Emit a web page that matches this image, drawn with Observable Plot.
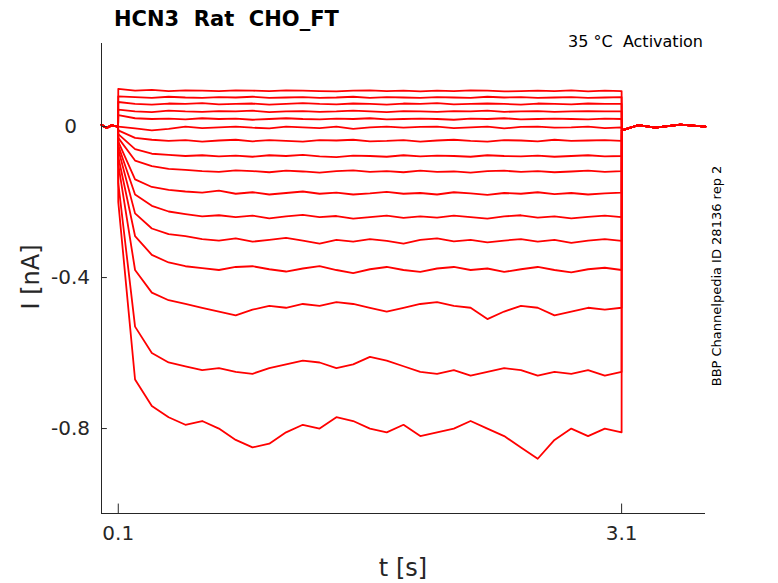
<!DOCTYPE html><html><head><meta charset="utf-8">
<script src="https://cdn.jsdelivr.net/npm/d3@7"></script>
<script src="https://cdn.jsdelivr.net/npm/@observablehq/plot@0.6"></script>
<style>body{margin:0;background:#fff;font-family:"DejaVu Sans",sans-serif}</style></head><body><div id="c"></div>
<script>
const preT=[0,0.03,0.06,0.099];
const pulseT=[0.1,0.2,0.3,0.4,0.5,0.6,0.7,0.8,0.9,1.0,1.1,1.2,1.3,1.4,1.5,1.6,1.7,1.8,1.9,2.0,2.1,2.2,2.3,2.4,2.5,2.6,2.7,2.8,2.9,3.0,3.1];
const postT=[3.101,3.2,3.3,3.45,3.6];
const preV=[0.005,-0.004,0.003,0.0];
const postV=[-0.01,0.004,-0.003,0.005,0.0];
const traces=[
[0.1,0.095,0.097,0.094,0.096,0.095,0.094,0.096,0.095,0.094,0.096,0.095,0.094,0.093,0.095,0.096,0.094,0.095,0.093,0.095,0.094,0.096,0.095,0.093,0.094,0.095,0.094,0.096,0.093,0.095,0.094],
[0.08,0.078,0.076,0.079,0.077,0.076,0.078,0.077,0.079,0.076,0.077,0.078,0.076,0.077,0.079,0.076,0.078,0.077,0.076,0.078,0.077,0.076,0.079,0.077,0.078,0.076,0.077,0.078,0.076,0.077,0.078],
[0.065,0.06,0.058,0.061,0.06,0.062,0.059,0.06,0.061,0.058,0.06,0.062,0.06,0.059,0.061,0.06,0.058,0.061,0.06,0.062,0.059,0.06,0.061,0.06,0.058,0.061,0.06,0.059,0.061,0.06,0.06],
[0.045,0.04,0.038,0.042,0.04,0.039,0.041,0.04,0.042,0.038,0.04,0.041,0.039,0.04,0.042,0.04,0.038,0.041,0.04,0.039,0.041,0.04,0.042,0.039,0.04,0.041,0.039,0.04,0.041,0.04,0.04],
[0.03,0.022,0.02,0.021,0.019,0.022,0.02,0.021,0.018,0.02,0.022,0.02,0.019,0.021,0.02,0.022,0.019,0.02,0.021,0.02,0.018,0.021,0.02,0.022,0.019,0.02,0.021,0.02,0.019,0.021,0.02],
[0.0,-0.005,-0.01,-0.006,0.0,-0.004,-0.002,0.0,-0.003,-0.005,0.0,-0.002,-0.004,0.0,-0.006,-0.002,0.0,-0.003,-0.001,0.0,-0.004,-0.002,0.0,-0.005,-0.001,0.0,-0.003,-0.002,0.0,-0.004,-0.002],
[-0.01,-0.03,-0.035,-0.038,-0.036,-0.04,-0.037,-0.035,-0.039,-0.036,-0.038,-0.04,-0.036,-0.037,-0.035,-0.039,-0.038,-0.036,-0.04,-0.037,-0.035,-0.038,-0.04,-0.036,-0.037,-0.039,-0.035,-0.038,-0.037,-0.036,-0.038],
[-0.02,-0.06,-0.072,-0.075,-0.078,-0.076,-0.079,-0.077,-0.08,-0.076,-0.078,-0.075,-0.079,-0.081,-0.077,-0.078,-0.08,-0.076,-0.079,-0.077,-0.078,-0.08,-0.076,-0.078,-0.079,-0.077,-0.08,-0.078,-0.076,-0.079,-0.078],
[-0.03,-0.09,-0.105,-0.112,-0.115,-0.118,-0.12,-0.116,-0.118,-0.121,-0.117,-0.119,-0.122,-0.118,-0.116,-0.12,-0.118,-0.121,-0.117,-0.12,-0.119,-0.122,-0.118,-0.117,-0.12,-0.118,-0.121,-0.119,-0.117,-0.12,-0.118],
[-0.04,-0.14,-0.16,-0.168,-0.172,-0.175,-0.17,-0.178,-0.174,-0.18,-0.176,-0.172,-0.178,-0.175,-0.18,-0.177,-0.173,-0.178,-0.176,-0.18,-0.174,-0.177,-0.181,-0.176,-0.178,-0.174,-0.179,-0.176,-0.18,-0.177,-0.175],
[-0.05,-0.18,-0.21,-0.225,-0.232,-0.238,-0.235,-0.24,-0.236,-0.243,-0.238,-0.234,-0.24,-0.237,-0.244,-0.24,-0.236,-0.242,-0.238,-0.241,-0.236,-0.24,-0.244,-0.238,-0.235,-0.241,-0.238,-0.243,-0.239,-0.236,-0.24],
[-0.06,-0.23,-0.27,-0.285,-0.29,-0.298,-0.302,-0.296,-0.305,-0.3,-0.295,-0.302,-0.31,-0.3,-0.305,-0.298,-0.303,-0.31,-0.3,-0.296,-0.304,-0.3,-0.307,-0.302,-0.298,-0.305,-0.3,-0.308,-0.302,-0.298,-0.303],
[-0.08,-0.29,-0.34,-0.36,-0.37,-0.375,-0.38,-0.372,-0.37,-0.378,-0.384,-0.376,-0.37,-0.38,-0.388,-0.378,-0.372,-0.38,-0.385,-0.376,-0.372,-0.38,-0.376,-0.385,-0.378,-0.372,-0.38,-0.386,-0.378,-0.374,-0.38],
[-0.1,-0.38,-0.44,-0.46,-0.47,-0.48,-0.49,-0.5,-0.485,-0.475,-0.48,-0.47,-0.475,-0.465,-0.47,-0.48,-0.49,-0.48,-0.47,-0.465,-0.475,-0.48,-0.51,-0.49,-0.475,-0.48,-0.5,-0.49,-0.48,-0.485,-0.48],
[-0.15,-0.53,-0.6,-0.625,-0.635,-0.645,-0.64,-0.65,-0.655,-0.64,-0.63,-0.62,-0.625,-0.64,-0.63,-0.61,-0.62,-0.635,-0.65,-0.655,-0.645,-0.66,-0.65,-0.64,-0.645,-0.66,-0.65,-0.655,-0.645,-0.66,-0.65],
[-0.2,-0.67,-0.74,-0.77,-0.79,-0.78,-0.8,-0.83,-0.85,-0.84,-0.81,-0.79,-0.8,-0.77,-0.78,-0.8,-0.81,-0.79,-0.82,-0.81,-0.8,-0.78,-0.8,-0.82,-0.85,-0.88,-0.83,-0.8,-0.82,-0.8,-0.81]
];
const rows=[];
traces.forEach((vals,k)=>{
  preT.forEach((t,i)=>rows.push({k,t,v:preV[i]}));
  pulseT.forEach((t,i)=>rows.push({k,t,v:vals[i]}));
  postT.forEach((t,i)=>rows.push({k,t,v:postV[i]}));
});
const xTicks=[0.1,3.1], yTicks=[0,-0.4,-0.8];
const fmt=d=>d===0?"0":String(d);
const p=Plot.plot({width:778,height:583,marginLeft:101,marginRight:73,marginTop:43,marginBottom:70,
 style:{fontFamily:"DejaVu Sans",fontSize:"20px",color:"#262626"},
 x:{domain:[0,3.6],label:null},
 y:{domain:[-1.025,0.22],label:null},
 marks:[
  Plot.axisX(xTicks,{tickFormat:fmt,tickSize:0,tickPadding:12,label:null}),
  Plot.axisY(yTicks,{tickFormat:fmt,tickSize:0,tickPadding:31,textAnchor:"middle",label:null}),
  Plot.line(rows,{x:"t",y:"v",z:"k",stroke:"#ff0000",strokeWidth:1.8}),
  Plot.ruleX([0],{stroke:"#262626"}),
  Plot.ruleY([-1.025],{stroke:"#262626"}),
  Plot.ruleX(xTicks,{x:d=>d,y1:-1.025,y2:-1.0,stroke:"#262626"}),
  Plot.ruleY(yTicks,{y:d=>d,x1:0,x2:0.035,stroke:"#262626"})
 ]});
const svg=d3.select(p);
const add=(x,y,t,o={})=>{const e=svg.append("text").attr("x",x).attr("y",y).text(t).attr("fill","#000").attr("font-family","DejaVu Sans").attr("text-anchor","start");for(const k in o)e.attr(k,o[k]);return e;};
add(114,26,"HCN3\u00a0\u00a0Rat\u00a0\u00a0CHO_FT",{"font-size":21,"font-weight":"bold"});
add(703,47,"35 °C\u00a0\u00a0Activation",{"font-size":16,"text-anchor":"end"});
add(403,576,"t [s]",{"font-size":24,"text-anchor":"middle","fill":"#262626"});
add(0,0,"I [nA]",{"font-size":24,"text-anchor":"middle","fill":"#262626","transform":"translate(39,277) rotate(-90)"});
add(0,0,"BBP Channelpedia ID 28136 rep 2",{"font-size":13,"text-anchor":"middle","transform":"translate(721,276) rotate(-90)"});
document.getElementById("c").appendChild(p);
</script></body></html>
